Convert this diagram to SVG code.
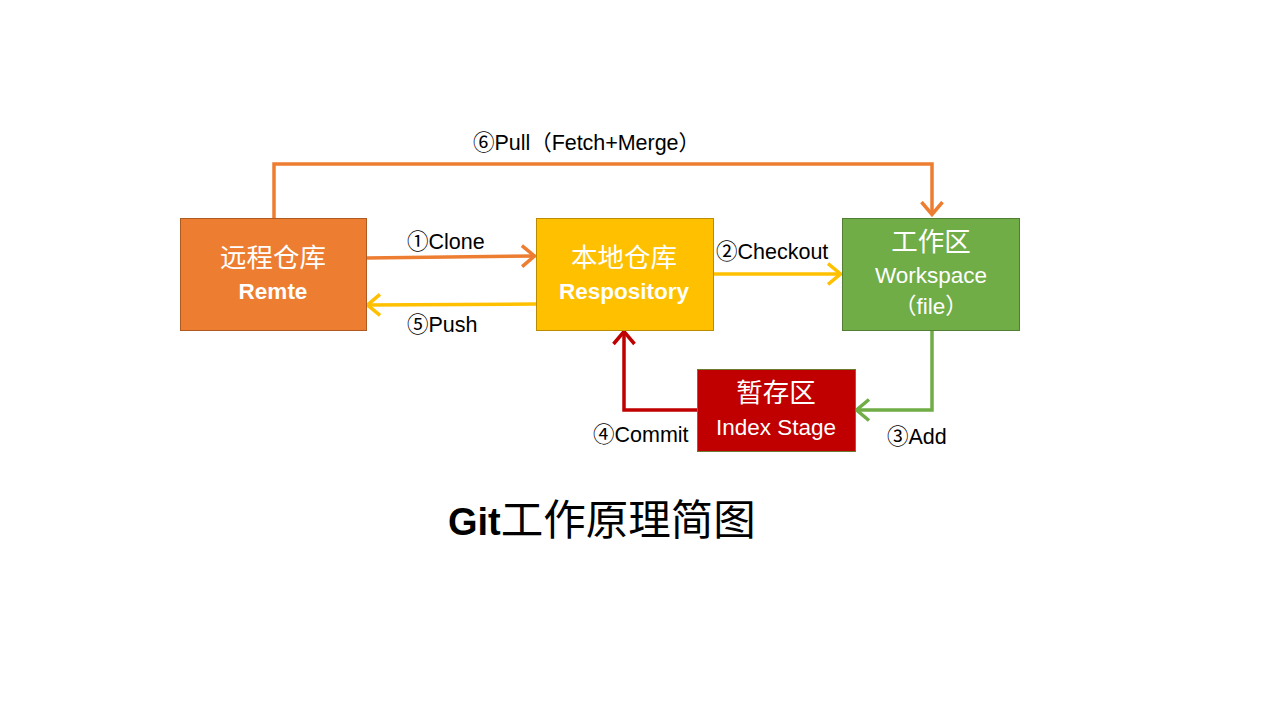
<svg xmlns="http://www.w3.org/2000/svg" width="1280" height="720" viewBox="0 0 1280 720">
<defs>
<style>
.lbl{font-family:"Liberation Sans","Noto Sans CJK SC",sans-serif;font-size:21.5px;fill:#000}
.cn{font-family:"Noto Sans CJK SC",sans-serif;font-size:26.5px;fill:#fff}
.en{font-family:"Liberation Sans","Noto Sans CJK SC",sans-serif;font-size:22.5px;fill:#fff}
.b{font-weight:bold}
.ln{fill:none;stroke-width:3.5}
</style>
<marker id="aO" viewBox="0 0 16 24" refX="14.5" refY="12" markerWidth="16" markerHeight="24" markerUnits="userSpaceOnUse" orient="auto"><path d="M1.5,1.5 L14,12 L1.5,22.5" fill="none" stroke="#ED7D31" stroke-width="3.5"/></marker>
<marker id="aY" viewBox="0 0 16 24" refX="14.5" refY="12" markerWidth="16" markerHeight="24" markerUnits="userSpaceOnUse" orient="auto"><path d="M1.5,1.5 L14,12 L1.5,22.5" fill="none" stroke="#FFC000" stroke-width="3.5"/></marker>
<marker id="aG" viewBox="0 0 16 24" refX="14.5" refY="12" markerWidth="16" markerHeight="24" markerUnits="userSpaceOnUse" orient="auto"><path d="M1.5,1.5 L14,12 L1.5,22.5" fill="none" stroke="#70AD47" stroke-width="3.5"/></marker>
<marker id="aR" viewBox="0 0 16 24" refX="14.5" refY="12" markerWidth="16" markerHeight="24" markerUnits="userSpaceOnUse" orient="auto"><path d="M1.5,1.5 L14,12 L1.5,22.5" fill="none" stroke="#C00000" stroke-width="3.5"/></marker>
</defs>
<rect width="1280" height="720" fill="#fff"/>
<g id="connectors">
<path class="ln" stroke="#ED7D31" d="M274,218 V164 H932 V215" marker-end="url(#aO)"/>
<path class="ln" stroke="#ED7D31" d="M366,258 L535,256" marker-end="url(#aO)"/>
<path class="ln" stroke="#FFC000" d="M536,304 L367,305" marker-end="url(#aY)"/>
<path class="ln" stroke="#FFC000" d="M713,274 L841,274" marker-end="url(#aY)"/>
<path class="ln" stroke="#70AD47" d="M932,330 V410 H856" marker-end="url(#aG)"/>
<path class="ln" stroke="#C00000" d="M697,410 H624 V331" marker-end="url(#aR)"/>
</g>
<g id="labels">
<text class="lbl" x="473" y="150" textLength="227" lengthAdjust="spacing">⑥Pull（Fetch+Merge）</text>
<text class="lbl" x="407" y="249">①Clone</text>
<text class="lbl" x="407" y="332">⑤Push</text>
<text class="lbl" x="716" y="259">②Checkout</text>
<text class="lbl" x="887" y="444">③Add</text>
<text class="lbl" x="593" y="442">④Commit</text>
</g>
<g id="remote">
<rect x="180.5" y="218.5" width="186" height="112" fill="#ED7D31" stroke="#AE5A21"/>
<text class="cn" x="273" y="267" text-anchor="middle">远程仓库</text>
<text class="en b" x="273" y="299" text-anchor="middle">Remte</text>
</g>
<g id="local">
<rect x="536.5" y="218.5" width="177" height="112" fill="#FFC000" stroke="#BC8C00"/>
<text class="cn" x="624" y="267" text-anchor="middle">本地仓库</text>
<text class="en b" x="624" y="299" text-anchor="middle">Respository</text>
</g>
<g id="workspace">
<rect x="842.5" y="218.5" width="177" height="112" fill="#70AD47" stroke="#507E32"/>
<text class="cn" x="931" y="251" text-anchor="middle">工作区</text>
<text class="en" x="931" y="283" text-anchor="middle">Workspace</text>
<text class="en" x="931" y="314" text-anchor="middle">（file）</text>
</g>
<g id="index">
<rect x="697.5" y="369.5" width="158" height="82" fill="#C00000" stroke="#6B7A30"/>
<text class="cn" x="776" y="402" text-anchor="middle">暂存区</text>
<text class="en" x="776" y="435" text-anchor="middle">Index Stage</text>
</g>
<g id="title">
<text x="448" y="535" font-family="Liberation Sans,'Noto Sans CJK SC',sans-serif" font-size="38" fill="#000"><tspan font-weight="bold">Git</tspan><tspan font-family="'Noto Sans CJK SC',sans-serif" font-size="42.5">工作原理简图</tspan></text>
</g>
</svg>
